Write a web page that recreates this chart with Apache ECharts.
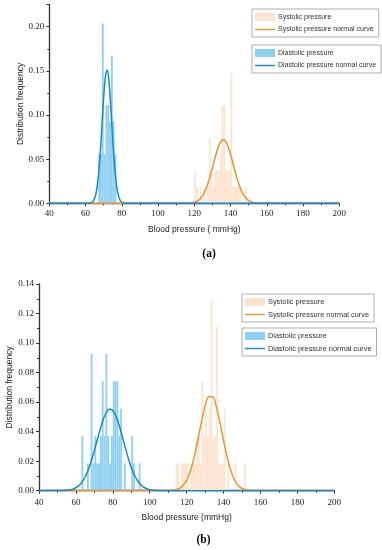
<!DOCTYPE html>
<html>
<head>
<meta charset="utf-8">
<script src="https://cdn.jsdelivr.net/npm/echarts@6/dist/echarts.min.js"></script>
<style>html,body{margin:0;padding:0;background:#fff}#c{width:382px;height:550px}</style>
</head>
<body>
<div id="c"></div>
<script>
// ---- Data (bin lower edges in mmHg, bin width 1; frequencies) ----
// Chart (a)
const diaA_bins = [67, 68, 69, 70, 71, 72, 73, 74, 75, 76];
const diaA_freq = [0.0556, 0.0556, 0.2037, 0.0556, 0.1111, 0.1111, 0.0926, 0.1667, 0.0926, 0.0556];
const sysA_bins = [120, 121, 123, 125, 127, 128, 129, 130, 131, 132, 133, 134, 135, 136, 137, 138, 139, 140, 141, 142, 143, 144, 145, 148];
const sysA_freq = [0.0370, 0.0185, 0.0185, 0.0185, 0.0185, 0.0741, 0.0370, 0.0185, 0.0370, 0.0370, 0.0370, 0.0556, 0.1111, 0.1111, 0.0370, 0.0370, 0.0370, 0.1481, 0.0185, 0.0185, 0.0185, 0.0185, 0.0185, 0.0185];
const diaA_curveX = [40, 62, 63, 64, 65, 66, 67, 68, 69, 70, 71, 72, 73, 74, 75, 76, 77, 78, 79, 80, 81, 82, 200];
const diaA_curveY = [0, 0.0002, 0.0006, 0.0019, 0.0055, 0.0136, 0.029, 0.0536, 0.086, 0.120, 0.144, 0.1506, 0.136, 0.107, 0.0725, 0.0426, 0.0217, 0.0095, 0.0037, 0.0012, 0.0003, 0.0001, 0];
const sysA_curveX = [40, 116, 118, 120, 122, 124, 126, 128, 130, 132, 134, 136, 138, 140, 142, 144, 146, 148, 150, 152, 154, 156, 200];
const sysA_curveY = [0, 0.0001, 0.0004, 0.0011, 0.003, 0.0069, 0.0141, 0.0254, 0.040, 0.0555, 0.0675, 0.072, 0.0675, 0.0555, 0.040, 0.0254, 0.0141, 0.0069, 0.003, 0.0011, 0.0004, 0.0001, 0];

// Chart (b)
const diaB_bins = [63, 66, 68, 69, 70, 71, 72, 73, 74, 75, 76, 77, 78, 79, 80, 81, 82, 83, 84, 86, 90, 91, 94];
const diaB_freq = [0.0370, 0.0185, 0.0926, 0.0185, 0.0370, 0.0185, 0.0185, 0.0370, 0.0741, 0.0370, 0.0926, 0.0370, 0.0185, 0.0370, 0.0741, 0.0741, 0.0741, 0.0370, 0.0556, 0.0185, 0.0370, 0.0185, 0.0185];
const sysB_bins = [114, 115, 117, 118, 119, 120, 122, 123, 124, 125, 126, 127, 128, 129, 130, 131, 132, 133, 134, 135, 136, 137, 138, 139, 140, 142, 146, 151];
const sysB_freq = [0.0185, 0.0185, 0.0185, 0.0185, 0.0185, 0.0185, 0.0185, 0.0185, 0.0185, 0.0370, 0.0370, 0.0185, 0.0741, 0.0370, 0.0556, 0.0370, 0.0556, 0.1296, 0.0370, 0.0370, 0.1111, 0.0185, 0.0185, 0.0185, 0.0556, 0.0185, 0.0185, 0.0185];
const diaB_curveX = [40, 52, 54, 56, 58, 60, 62, 64, 66, 68, 70, 72, 74, 76, 78, 80, 82, 84, 86, 88, 90, 92, 94, 96, 98, 100, 102, 104, 106, 200];
const diaB_curveY = [0, 0.0001, 0.0002, 0.0004, 0.0009, 0.002, 0.0039, 0.0071, 0.012, 0.0188, 0.0272, 0.0364, 0.0451, 0.0518, 0.0551, 0.0543, 0.0495, 0.0418, 0.0327, 0.0236, 0.0158, 0.0098, 0.0057, 0.003, 0.0015, 0.0007, 0.0003, 0.0001, 0, 0];
const sysB_curveX = [40, 112, 114, 116, 118, 120, 122, 124, 126, 128, 130, 132, 134, 136, 138, 140, 142, 144, 146, 148, 150, 152, 154, 156, 200];
const sysB_curveY = [0, 0.0002, 0.0006, 0.0015, 0.0035, 0.0071, 0.0133, 0.0224, 0.034, 0.0465, 0.0573, 0.0636, 0.0636, 0.0573, 0.0465, 0.034, 0.0224, 0.0133, 0.0071, 0.0035, 0.0015, 0.0006, 0.0002, 0.0001, 0];

const xTickValues = [40, 60, 80, 100, 120, 140, 160, 180, 200];

// ---- Styles ----
const SYS_BAR = '#fde4cf';
const DIA_BAR = '#8ecff3';
const SYS_LINE = '#ef9330';
const DIA_LINE = '#138bc9';
const AX = '#333';
const LINE_ICON = 'path://M0,0 L20,0 L20,1.4 L0,1.4 Z';

function pairs(xs, ys) { return xs.map((x, i) => [x, ys[i]]); }

function renderBar(params, api) {
  const x0 = api.value(0), f = api.value(1);
  const p0 = api.coord([x0, f]);
  const p1 = api.coord([x0 + 1, 0]);
  return {
    type: 'rect',
    shape: { x: p0[0], y: p0[1], width: p1[0] - p0[0], height: p1[1] - p0[1] },
    style: api.style()
  };
}

function xAxisCfg(gi, name, margin) {
  return {
    gridIndex: gi, type: 'value', min: xTickValues[0], max: xTickValues[xTickValues.length - 1], interval: 20,
    axisLine: { show: true, onZero: true, lineStyle: { color: AX, width: 1.3 } },
    axisTick: { show: true, length: 3, lineStyle: { color: AX, width: 1 } },
    minorTick: { show: true, splitNumber: 2, length: 2, lineStyle: { color: AX, width: 1 } },
    splitLine: { show: false },
    axisLabel: { fontFamily: 'Liberation Serif', fontSize: 9, color: '#222', margin: margin },
    name: name, nameLocation: 'middle', nameGap: 22, nameMoveOverlap: false,
    nameTextStyle: { fontFamily: 'Liberation Sans', fontSize: 8.5, color: '#222' }
  };
}

function yAxisCfg(gi, max, interval, nameGap) {
  return {
    gridIndex: gi, type: 'value', min: 0, max: max, interval: interval,
    axisLine: { show: true, lineStyle: { color: AX, width: 1.3 } },
    axisTick: { show: true, length: 3, lineStyle: { color: AX, width: 1 } },
    minorTick: { show: true, splitNumber: 2, length: 2, lineStyle: { color: AX, width: 1 } },
    splitLine: { show: false },
    axisLabel: {
      fontFamily: 'Liberation Serif', fontSize: 9, color: '#222', margin: 5,
      formatter: v => (Math.abs(v / interval - Math.round(v / interval)) > 1e-6 ? '' : v.toFixed(2))
    },
    name: 'Distribution frequency', nameLocation: 'middle', nameGap: nameGap, nameRotate: 90, nameMoveOverlap: false,
    nameTextStyle: { fontFamily: 'Liberation Sans', fontSize: 8.5, color: '#222' }
  };
}

function legendCfg(left, top, names, fs) {
  return {
    left: left, top: top, orient: 'vertical',
    data: [{ name: names[0], icon: 'rect' }, { name: names[1], icon: LINE_ICON }],
    itemWidth: 20, itemHeight: 8, itemGap: 5,
    padding: [4, 5, 4, 3],
    borderColor: '#9a9a9a', borderWidth: 0.8, backgroundColor: '#fff',
    textStyle: { fontFamily: 'Liberation Sans', fontSize: fs, color: '#333', padding: [0, 0, 0, -2] },
    selectedMode: false
  };
}

const option = {
  animation: false,
  backgroundColor: '#fff',
  grid: [
    { left: 49.3, right: 42.7, top: 4.6, bottom: 346.7, containLabel: false, outerBoundsMode: 'none' },
    { left: 39, right: 47.7, top: 284, bottom: 59.3, containLabel: false, outerBoundsMode: 'none' }
  ],
  xAxis: [xAxisCfg(0, 'Blood pressure ( mmHg)', 6), xAxisCfg(1, 'Blood pressure (mmHg)', 7)],
  yAxis: [yAxisCfg(0, 0.225, 0.05, 24), yAxisCfg(1, 0.14, 0.02, 25)],
  legend: [
    legendCfg(252, 9, ['Systolic pressure', 'Systolic pressure normal curve'], 7.0),
    legendCfg(252, 45, ['Diastolic pressure', 'Diastolic pressure normal curve'], 7.0),
    legendCfg(242, 294, ['Systolic pressure', 'Systolic pressure normal curve'], 7.4),
    legendCfg(242, 328, ['Diastolic pressure', 'Diastolic pressure normal curve'], 7.4)
  ],
  graphic: [
    { type: 'text', x: 209, y: 254, style: { text: '(a)', font: 'bold 11.5px "Liberation Serif"', textAlign: 'center', textVerticalAlign: 'middle', fill: '#000' } },
    { type: 'text', x: 203.5, y: 540.5, style: { text: '(b)', font: 'bold 11.5px "Liberation Serif"', textAlign: 'center', textVerticalAlign: 'middle', fill: '#000' } }
  ],
  series: [
    { name: 'Systolic pressure', type: 'custom', xAxisIndex: 0, yAxisIndex: 0, renderItem: renderBar,
      itemStyle: { color: SYS_BAR }, encode: { x: 0, y: 1 }, data: pairs(sysA_bins, sysA_freq), z: 1 },
    { name: 'Diastolic pressure', type: 'custom', xAxisIndex: 0, yAxisIndex: 0, renderItem: renderBar,
      itemStyle: { color: DIA_BAR }, encode: { x: 0, y: 1 }, data: pairs(diaA_bins, diaA_freq), z: 1 },
    { name: 'Systolic pressure normal curve', type: 'line', xAxisIndex: 0, yAxisIndex: 0, symbol: 'none', smooth: 0.4,
      lineStyle: { color: SYS_LINE, width: 1.5 }, itemStyle: { color: SYS_LINE }, data: pairs(sysA_curveX, sysA_curveY), z: 3 },
    { name: 'Diastolic pressure normal curve', type: 'line', xAxisIndex: 0, yAxisIndex: 0, symbol: 'none', smooth: 0.4,
      lineStyle: { color: DIA_LINE, width: 1.5 }, itemStyle: { color: DIA_LINE }, data: pairs(diaA_curveX, diaA_curveY), z: 3 },

    { name: 'Systolic pressure', type: 'custom', xAxisIndex: 1, yAxisIndex: 1, renderItem: renderBar,
      itemStyle: { color: SYS_BAR }, encode: { x: 0, y: 1 }, data: pairs(sysB_bins, sysB_freq), z: 1 },
    { name: 'Diastolic pressure', type: 'custom', xAxisIndex: 1, yAxisIndex: 1, renderItem: renderBar,
      itemStyle: { color: DIA_BAR }, encode: { x: 0, y: 1 }, data: pairs(diaB_bins, diaB_freq), z: 1 },
    { name: 'Systolic pressure normal curve', type: 'line', xAxisIndex: 1, yAxisIndex: 1, symbol: 'none', smooth: 0.4,
      lineStyle: { color: SYS_LINE, width: 1.5 }, itemStyle: { color: SYS_LINE }, data: pairs(sysB_curveX, sysB_curveY), z: 3 },
    { name: 'Diastolic pressure normal curve', type: 'line', xAxisIndex: 1, yAxisIndex: 1, symbol: 'none', smooth: 0.4,
      lineStyle: { color: DIA_LINE, width: 1.5 }, itemStyle: { color: DIA_LINE }, data: pairs(diaB_curveX, diaB_curveY), z: 3 }
  ]
};

const chart = echarts.init(document.getElementById('c'), null, { renderer: 'canvas' });
chart.setOption(option);
</script>
</body>
</html>
